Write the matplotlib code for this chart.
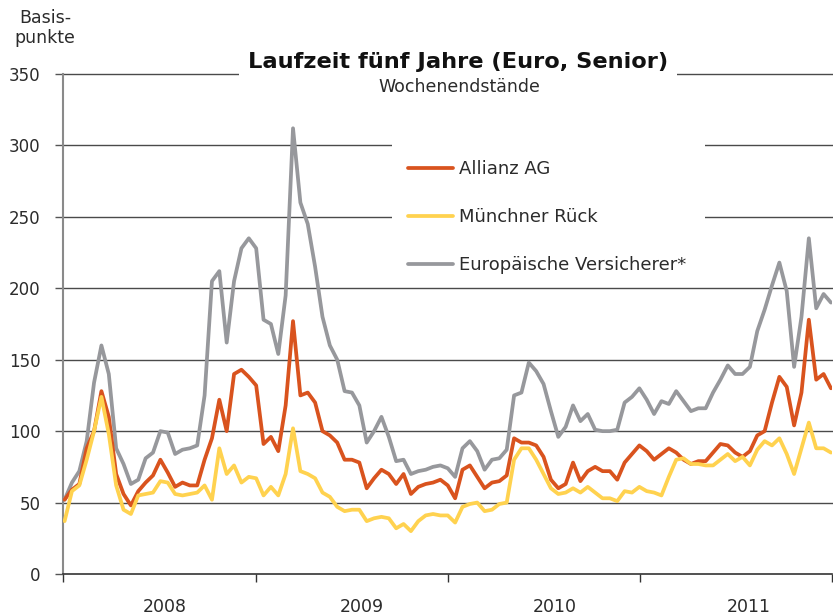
import matplotlib
matplotlib.use('Agg')
import matplotlib.pyplot as plt
import matplotlib.dates as mdates
from matplotlib.ticker import FixedLocator, FixedFormatter, NullFormatter
from matplotlib.patches import Rectangle
import pandas as pd

# biweekly observations, Jan 2008 - Dec 2011 (basis points)
dates = pd.date_range('2008-01-04', periods=105, freq='14D')

allianz = [52, 59, 63, 88, 100, 128, 110, 70, 56, 48, 58, 64, 69, 80, 71, 61, 64, 62, 62,
           80, 95, 122, 100, 140, 143, 138, 132, 91, 96, 86, 118, 177, 125, 127, 120, 100, 97,
           92, 80, 80, 78, 60, 67, 73, 70, 63, 70, 56, 61, 63, 64, 66, 62, 53, 73,
           76, 68, 60, 64, 65, 69, 95, 92, 92, 90, 82, 66, 60, 63, 78, 65, 72,
           75, 72, 72, 66, 78, 84, 90, 86, 80, 84, 88, 85, 80, 77, 79, 79, 85,
           91, 90, 85, 82, 86, 97, 100, 120, 138, 131, 104, 127, 178, 136, 140, 130]

muenchner = [37, 58, 62, 80, 100, 124, 98, 62, 45, 42, 55, 56, 57, 65, 64, 56, 55, 56, 57,
             62, 52, 88, 70, 76, 64, 68, 67, 55, 61, 55, 70, 102, 72, 70, 67, 57, 54,
             47, 44, 45, 45, 37, 39, 40, 39, 32, 35, 30, 37, 41, 42, 41, 41, 36, 47,
             49, 50, 44, 45, 49, 50, 80, 88, 88, 80, 70, 60, 56, 57, 60, 57, 61,
             57, 53, 53, 51, 58, 57, 61, 58, 57, 55, 68, 80, 81, 77, 77, 76, 76,
             80, 84, 79, 82, 76, 87, 93, 90, 95, 84, 70, 88, 106, 88, 88, 85]

europa = [52, 64, 72, 93, 134, 160, 140, 88, 77, 63, 66, 81, 85, 100, 99, 84, 87, 88, 90,
          125, 205, 212, 162, 205, 228, 235, 228, 178, 175, 154, 195, 312, 260, 245, 215, 180, 160,
          150, 128, 127, 118, 92, 100, 110, 96, 79, 80, 70, 72, 73, 75, 76, 74, 68, 88,
          93, 86, 73, 80, 81, 87, 125, 127, 148, 142, 133, 114, 96, 103, 118, 107, 112,
          101, 100, 100, 101, 120, 124, 130, 122, 112, 121, 119, 128, 121, 114, 116, 116, 127,
          136, 146, 140, 140, 145, 170, 185, 202, 218, 198, 145, 180, 235, 186, 196, 190]

labels = ['Allianz AG', 'Münchner Rück', 'Europäische Versicherer*']
colors = ['#d9531e', '#ffd24f', '#97989c']
year_labels = ['2008', '2009', '2010', '2011']
year_label_pos = ['2008-07-13', '2009-07-22', '2010-07-23', '2011-07-27']

txt = '#2b2b2b'
fig = plt.figure(figsize=(8.33, 6.15), dpi=100)
ax = fig.add_axes([63 / 833, 41 / 615, 769 / 833, 500 / 615])
ax.set_xlim(pd.Timestamp('2008-01-01'), pd.Timestamp('2012-01-01'))
ax.set_ylim(0, 350)

for v in range(50, 351, 50):
    ax.axhline(v, color='#4a4a4a', lw=1, zorder=1, clip_on=False)

# white box behind the legend hides the grid lines
ax.add_patch(Rectangle((0.4278, 0.576), 0.4071, 0.33, transform=ax.transAxes,
                       facecolor='white', edgecolor='none', zorder=2))

kw = dict(lw=2.7, solid_capstyle='round', solid_joinstyle='round')
l3, = ax.plot(dates, europa, color=colors[2], zorder=3, **kw)
l1, = ax.plot(dates, allianz, color=colors[0], zorder=4, **kw)
l2, = ax.plot(dates, muenchner, color=colors[1], zorder=5, **kw)

ax.legend([l1, l2, l3], labels, loc='upper left', frameon=False,
          bbox_to_anchor=(399 / 833, 1 - 151 / 615), bbox_transform=fig.transFigure,
          fontsize=13, handlelength=2.5, handletextpad=0.3, labelspacing=1.66,
          borderpad=0, labelcolor=txt)

ax.set_yticks(range(0, 351, 50))
ax.tick_params(axis='y', length=6, width=1, color='#555', pad=10, labelsize=12, labelcolor=txt)

ax.xaxis.set_major_locator(mdates.YearLocator())
ax.xaxis.set_major_formatter(NullFormatter())
ax.xaxis.set_minor_locator(FixedLocator([mdates.datestr2num(d) for d in year_label_pos]))
ax.xaxis.set_minor_formatter(FixedFormatter(year_labels))
ax.tick_params(axis='x', which='major', length=6, width=1, color='#333')
ax.tick_params(axis='x', which='minor', length=0, pad=17, labelsize=12.5, labelcolor=txt)

for s in ['top', 'right']:
    ax.spines[s].set_visible(False)
ax.spines['left'].set_color('#8a8a8a')
ax.spines['left'].set_linewidth(1.5)
ax.spines['bottom'].set_color('#333')
ax.spines['bottom'].set_linewidth(1.2)
ax.spines['bottom'].set_zorder(6)

fig.text(458 / 833, 1 - 62 / 615, 'Laufzeit fünf Jahre (Euro, Senior)', ha='center', va='center',
         fontsize=16.2, fontweight='bold', color='#111',
         bbox=dict(boxstyle='square,pad=0.4', facecolor='white', edgecolor='none'))
fig.text(459 / 833, 1 - 87 / 615, 'Wochenendstände', ha='center', va='center', fontsize=12.5, color=txt)
fig.text(45 / 833, 1 - 28 / 615, 'Basis-\npunkte', ha='center', va='center', fontsize=12.5,
         color=txt, linespacing=1.2)

fig.savefig('out.png', dpi=100)
